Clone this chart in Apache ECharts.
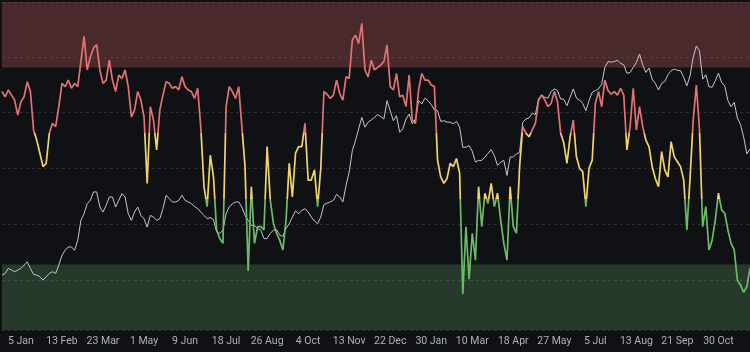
<!DOCTYPE html>
<html><head><meta charset="utf-8">
<script src="https://cdn.jsdelivr.net/npm/echarts@6/dist/echarts.min.js"></script>
<style>html,body{margin:0;padding:0;background:#0f1115;}#c{width:750px;height:352px;}</style>
</head><body><div id="c"></div>
<script>
// x axis: one sample every 3 days starting 17 Dec 2023
const startDate = '2023-12-17';
const stepDays = 3;
const tickLabels = ['5 Jan','13 Feb','23 Mar','1 May','9 Jun','18 Jul','26 Aug','4 Oct','13 Nov','22 Dec','30 Jan','10 Mar','18 Apr','27 May','5 Jul','13 Aug','21 Sep','30 Oct'];
const firstLabelIndex = 6;
const labelEvery = 13;

// oscillator (0-100)
const oscillator = [
72.7,71.1,73.2,71.6,70.1,65.5,69.6,71.1,75.7,72.7,
61,57.9,53.9,49.8,50.8,60,63,62,68.1,75.2,
74.2,76.2,73.7,75.2,74.2,81.8,89.5,79.3,83.3,86,
87,79.3,75.2,76.2,82.3,76.2,72.7,77.7,76.7,79.3,
74.2,65,67.1,72.7,70.1,65,44.7,68.1,64,54.9,
67.1,71.6,75.7,75.2,73.7,74.2,73.2,77.2,74.2,73.2,
72.7,70.6,73.7,61.5,43.7,37.6,53.3,46.7,30.5,27.9,
26.4,68.1,74.2,72.7,70.6,74.2,62,49.8,18,43.7,
26.4,31.5,31.5,30.5,55.9,39.6,32.5,29.5,27.4,24.4,
33.5,50.8,40.6,53.9,55.9,55.9,63,45.7,45.7,48.8,
37.6,49.3,72.7,71.9,70.6,71.6,76.2,72.1,70.1,77.2,
76.7,88.4,89.9,87.4,93.5,79.3,77.2,82.3,79.3,80,
80.8,81.8,86.9,74.2,73.2,78.2,71.1,71.6,68.1,77.7,
64,63,73.2,78.2,76.2,76.2,74.7,74.2,51.8,46.7,
44.7,46.2,50.8,49.8,52.3,47.8,11,31.5,15.5,29.5,
21.3,43.7,31.5,41.7,38.6,44.7,37.6,41.7,33.5,26.4,
21.3,43.7,31.5,29.5,49.8,62,60,58.9,61,63,
70.1,71.6,70.1,68.1,69.1,72.7,69.6,60,57,50.8,
58.9,64,52.8,49.3,48.3,37.6,49.3,51.8,69.1,72.7,
68.1,76.2,73,71.9,72.7,71.6,73.7,71.6,54.9,62,
73.7,61,68.1,62,57.9,55.9,49.8,46.2,43.7,54.4,
48.8,46.7,57.4,52.8,51.3,49.8,45.7,30.5,46.2,64,
74.7,61,31.5,37.6,24.4,27.4,33.5,41.7,36.6,35.6,
30.5,26.4,24.4,15.2,13.7,11.5,13.2,18.8
];

// price (USD)
const price = [
41800,42400,44200,43600,43000,43600,44200,45400,46500,44200,
42100,41800,41200,40000,41200,42400,43000,42400,45400,48900,
50700,51900,51900,50700,54300,61400,63800,67400,68600,71600,
71600,66200,64400,66800,69800,69800,66200,68600,71000,69800,
63800,61400,64400,66200,63200,62000,59000,63200,62600,61400,
62000,65600,70400,69200,68000,68000,68600,70400,68600,68000,
67400,66400,65600,64400,63200,62000,62400,61700,57300,56700,
57900,63800,66200,67400,68000,68000,66200,63200,61400,59600,
59600,58500,57900,54900,54900,56700,57900,58100,56100,55700,
58500,60200,62600,64800,63800,65000,65600,64400,62600,61200,
60200,62600,67100,67600,68000,68600,70700,69800,68000,73900,
78700,86400,90000,94200,98300,94800,96600,97400,98300,99300,
98600,97700,104300,100700,97100,98900,93000,94200,97700,99500,
96000,97700,104300,103100,105200,104300,102900,101000,100700,96900,
97100,96600,96600,96000,96900,94800,87600,87600,88200,86200,
82300,82900,82900,84100,85500,86700,84600,81100,82300,82900,
77500,84100,84100,85200,85800,96600,97700,98100,99800,99300,
104900,106400,105500,105200,107600,108500,107900,104900,104800,102500,
105500,108500,105200,104500,103300,100700,104300,107300,107900,108500,
110200,116200,118300,118100,118300,118800,117700,117100,114100,114400,
116200,118000,121000,117100,114400,116000,112000,110500,108100,110500,
111200,113600,115000,115600,115200,115000,112600,109600,113200,119800,
123900,122100,112000,113600,109300,109100,111400,114200,110800,109600,
104300,102100,103700,98100,95700,91200,85200,87000
];

const zoneLow = [0, 20];
const zoneHigh = [80, 100];
const colorThresholds = [40, 60];
const priceRange = [22140, 139640];

const categories = [];
(function(){
  const d0 = new Date(startDate + 'T00:00:00Z');
  for (let i = 0; i < oscillator.length; i++) {
    const d = new Date(d0.getTime() + i * stepDays * 86400000);
    categories.push(d.toISOString().slice(0,10));
  }
})();

const chart = echarts.init(document.getElementById('c'), null, {renderer:'canvas'});
chart.setOption({
  backgroundColor: '#0f1115',
  animation: false,
  grid: {left: 2, right: -4, top: 2, bottom: 22},
  xAxis: {
    type: 'category', data: categories, boundaryGap: false,
    axisLine: {show: false}, axisTick: {show: false}, splitLine: {show: false},
    axisLabel: {
      interval: function(i){ return i >= firstLabelIndex && (i - firstLabelIndex) % labelEvery === 0; },
      formatter: function(v, i){ return tickLabels[(i - firstLabelIndex) / labelEvery] || ''; },
      color: '#aeb1b7', fontSize: 10.5, fontFamily: 'Roboto, sans-serif', margin: 6
    }
  },
  yAxis: [
    {type: 'value', min: 0, max: 100, show: false},
    {type: 'value', min: priceRange[0], max: priceRange[1], position: 'right',
     axisLine: {show: false}, axisTick: {show: false}, axisLabel: {show: false},
     splitLine: {show: true, lineStyle: {color: 'rgba(255,255,255,0.12)', type: [3,3], width: 1}}}
  ],
  visualMap: {
    show: false, type: 'piecewise', seriesIndex: 0, dimension: 1,
    pieces: [
      {lt: colorThresholds[0], color: '#6dbb6a'},
      {gte: colorThresholds[0], lt: colorThresholds[1], color: '#f0d469'},
      {gte: colorThresholds[1], color: '#e27272'}
    ]
  },
  series: [
    {
      name: 'oscillator', type: 'line', yAxisIndex: 0, data: oscillator,
      showSymbol: false, symbol: 'none', lineStyle: {width: 1.7}, z: 3,
      markArea: {
        silent: true,
        data: [
          [{yAxis: zoneHigh[0], itemStyle: {color: 'rgba(212,100,103,0.30)'}}, {yAxis: zoneHigh[1]}],
          [{yAxis: zoneLow[0], itemStyle: {color: 'rgba(100,170,105,0.27)'}}, {yAxis: zoneLow[1]}]
        ]
      }
    },
    {
      name: 'price', type: 'line', yAxisIndex: 1, data: price,
      showSymbol: false, symbol: 'none', z: 2,
      lineStyle: {width: 1, color: '#c4c7cc'}
    }
  ]
});
</script>
</body></html>
